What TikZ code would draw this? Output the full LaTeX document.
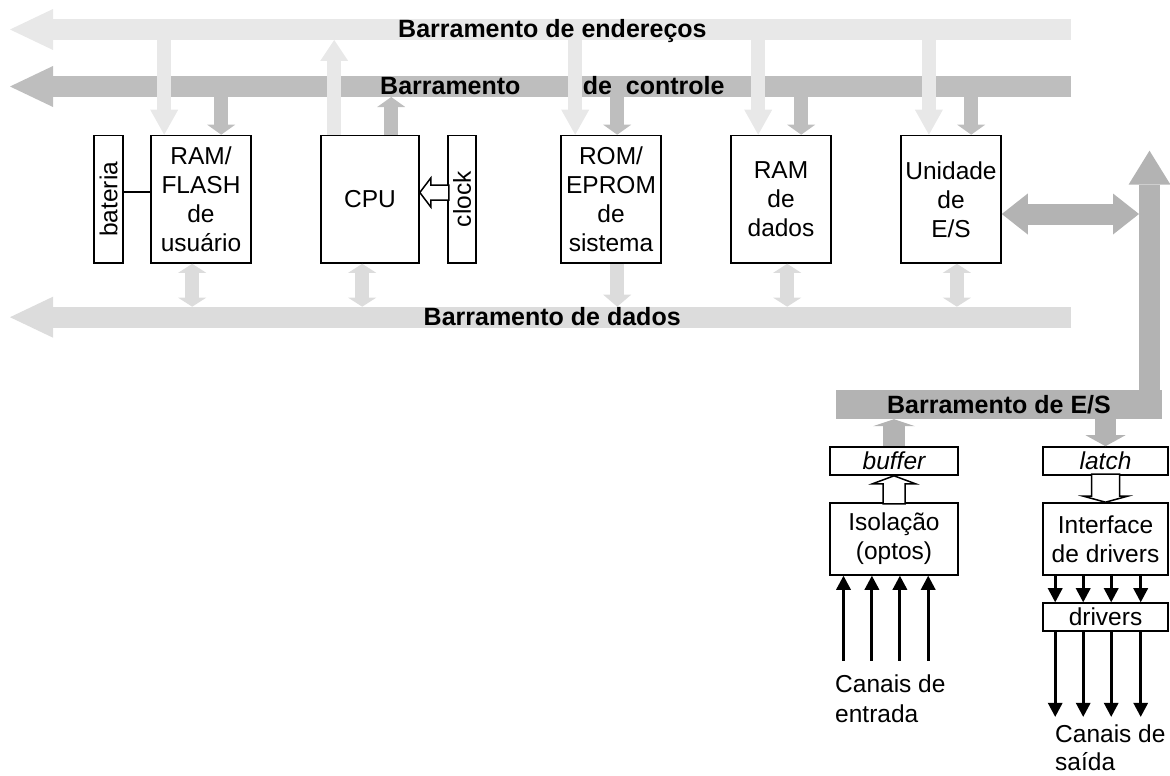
\documentclass[tikz,border=0pt]{standalone}
\usepackage{fontspec}
\setmainfont{Liberation Sans}
\usetikzlibrary{arrows.meta,calc}
\definecolor{addrc}{HTML}{E8E8E8}
\definecolor{ctrlc}{HTML}{BEBEBE}
\definecolor{datac}{HTML}{DCDCDC}
\definecolor{ioc}{HTML}{B3B3B3}
\begin{document}
\begin{tikzpicture}[x=1pt,y=-1pt,
  box/.style={draw=black,line width=1.6pt,fill=white,inner sep=0pt,align=center,font=\fontsize{24.5}{29}\selectfont},
  lbl/.style={inner sep=0pt,font=\fontsize{25}{30}\selectfont\bfseries,anchor=base west},
  bus/.style={line width=21pt,-{Triangle[width=41pt,length=43pt,line width=0pt]}},
  dropA/.style={draw=addrc,line width=14pt,-{Triangle[width=28pt,length=25pt,line width=0pt]}},
  upA/.style={draw=addrc,line width=14pt,-{Triangle[width=28pt,length=21pt,line width=0pt]}},
  dropC/.style={draw=ctrlc,line width=14pt,-{Triangle[width=28pt,length=10pt,line width=0pt]}},
  ddouble/.style={draw=datac,line width=14pt,{Triangle[width=28pt,length=9pt,line width=0pt]}-{Triangle[width=28pt,length=9pt,line width=0pt]}},
  dsingle/.style={draw=datac,line width=14pt,-{Triangle[width=28pt,length=12pt,line width=0pt]}},
  iov/.style={draw=ioc,line width=21pt,-{Triangle[width=42pt,length=34pt,line width=0pt]}},
  ioh/.style={draw=ioc,line width=21pt,{Triangle[width=41pt,length=26pt,line width=0pt]}-{Triangle[width=41pt,length=26pt,line width=0pt]}},
  iobuf/.style={draw=ioc,line width=22pt,-{Triangle[width=42pt,length=7pt,line width=0pt]}},
  iolat/.style={draw=ioc,line width=21pt,-{Triangle[width=40pt,length=11pt,line width=0pt]}},
  hollow/.style={draw=black,fill=white,line width=1.5pt,line join=miter},
  blk/.style={draw=black,line width=3pt,-{Triangle[width=15pt,length=14pt,line width=0pt]}},
  iobus/.style={fill=ioc,inner sep=0pt,minimum width=326pt,minimum height=29pt,font=\fontsize{25}{30}\selectfont\bfseries},
  txt/.style={anchor=north west,inner sep=0pt,align=left}
]
\useasboundingbox (0,0) rectangle (1170,776);

% bus coordinates
\coordinate (aR) at (1071,29.5); \coordinate (aL) at (10,29.5);
\coordinate (cR) at (1071,86.5); \coordinate (cL) at (10,86.5);
\coordinate (dR) at (1071,317.2); \coordinate (dL) at (10,317.2);
\coordinate (aB) at (0,40); \coordinate (cB) at (0,97); \coordinate (dT) at (0,306.7);

% buses
\draw[bus,draw=addrc] (aR) -- (aL);
\draw[bus,draw=ctrlc] (cR) -- (cL);
\draw[bus,draw=datac] (dR) -- (dL);

% boxes
\node[box,rotate=90,minimum width=127.5pt,minimum height=29pt] (bat) at (108.5,199.25) {bateria};
\node[box,minimum width=100pt,minimum height=127.5pt] (ramf) at (201,199.25) {RAM/\\FLASH\\de\\usuário};
\node[box,minimum width=98pt,minimum height=127.5pt] (cpu) at (370,199.25) {CPU};
\node[box,rotate=90,minimum width=127.5pt,minimum height=28pt] (clk) at (462,199.25) {clock};
\node[box,minimum width=100pt,minimum height=127.5pt] (rom) at (611,199.25) {ROM/\\EPROM\\de\\sistema};
\node[box,minimum width=100pt,minimum height=127.5pt] (ramd) at (781,199.25) {RAM\\de\\dados};
\node[box,minimum width=100pt,minimum height=127.5pt] (es) at (951,199.25) {Unidade\\de\\E/S};

\node[box,minimum width=128pt,minimum height=28pt] (buf) at (894,461) {\itshape buffer};
\node[box,minimum width=125pt,minimum height=28pt] (lat) at (1105.5,461) {\itshape latch};
\node[box,minimum width=128pt,minimum height=72pt] (iso) at (894,539) {Isolação\\(optos)};
\node[box,minimum width=125pt,minimum height=72pt] (itf) at (1105.5,539) {Interface\\de drivers};
\node[box,minimum width=125pt,minimum height=28pt] (drv) at (1105.5,617) {drivers};

% battery link
\draw[line width=1.5pt] (bat.south |- 0,192) -- (ramf.west |- 0,192);

% address drops
\draw[dropA] ($(ramf.north west |- aL)+(14,0)$) -- ($(ramf.north west)+(14,0)$);
\draw[upA] ($(cpu.north west)+(14,0)$) -- ($(cpu.north west |- aB)+(14,0)$);
\draw[dropA] ($(rom.north west |- aL)+(15,0)$) -- ($(rom.north west)+(15,0)$);
\draw[dropA] ($(ramd.north west |- aL)+(28,0)$) -- ($(ramd.north west)+(28,0)$);
\draw[dropA] ($(es.north west |- aL)+(28.7,0)$) -- ($(es.north west)+(28.7,0)$);

% control drops
\draw[dropC] ($(ramf.north west |- cL)+(71,0)$) -- ($(ramf.north west)+(71,0)$);
\draw[dropC] ($(cpu.north west)+(71,0)$) -- ($(cpu.north west |- cB)+(71,0)$);
\draw[dropC] ($(rom.north west |- cL)+(57,0)$) -- ($(rom.north west)+(57,0)$);
\draw[dropC] ($(ramd.north west |- cL)+(71,0)$) -- ($(ramd.north west)+(71,0)$);
\draw[dropC] ($(es.north west |- cL)+(71,0)$) -- ($(es.north west)+(71,0)$);

% data arrows
\draw[ddouble] ($(ramf.south west)+(42,0)$) -- ($(ramf.south west |- dT)+(42,0)$);
\draw[ddouble] ($(cpu.south west)+(42,0)$) -- ($(cpu.south west |- dT)+(42,0)$);
\draw[dsingle] ($(rom.south west)+(57,0)$) -- ($(rom.south west |- dT)+(57,0)$);
\draw[ddouble] ($(ramd.south west)+(57,0)$) -- ($(ramd.south west |- dT)+(57,0)$);
\draw[ddouble] ($(es.south west)+(56.7,0)$) -- ($(es.south west |- dT)+(56.7,0)$);

% clock hollow arrow
\draw[hollow] (cpu.east |- 0,192.5) -- ++(11,-14.5) -- ++(0,7) -- ++(18,0) -- ++(0,15) -- ++(-18,0) -- ++(0,7) -- cycle;

% I/O bus
\node[iobus] (iob) at (999,404.5) {Barramento de E/S};
\coordinate (ioT) at (1149.5,150.7);
\coordinate (ioH) at (1139,214);
\draw[iov] (iob.north -| ioT) -- (ioT);
\draw[ioh] ($(es.east)+(0,14.75)$) -- (ioH);
\draw[iobuf] (buf.north) -- (buf.north |- iob.south);
\draw[iolat] (lat.north |- iob.south) -- (lat.north);

% hollow arrows buffer / latch
\draw[hollow] (buf.south) -- ++(21.5,8) -- ++(-10.5,0) -- ++(0,20) -- ++(-22,0) -- ++(0,-20) -- ++(-10.5,0) -- cycle;
\draw[hollow] (itf.north) -- ++(22,-6) -- ++(-8,0) -- ++(0,-22) -- ++(-28,0) -- ++(0,22) -- ++(-8,0) -- cycle;

% black channel arrows
\foreach \dx in {14.3,42.7,70.7,99} {
  \draw[blk] ($(iso.south west)+(\dx,85)$) -- ($(iso.south west)+(\dx,0)$);
}
\foreach \dx in {13,41,69,98.5} {
  \draw[blk] ($(itf.south west)+(\dx,0)$) -- ($(drv.north west)+(\dx,0)$);
  \draw[blk] ($(drv.south west)+(\dx,0)$) -- ($(drv.south west)+(\dx,85)$);
}

% bus labels
\node[lbl] (lA) at (398,38) {Barramento de endereços};
\node[lbl] (lC1) at (380,95) {Barramento};
\node[lbl] (lC2) at (582.7,95) {de\ \ controle};
\node[lbl] (lD) at (423.5,325) {Barramento de dados};

% channel labels
\node[txt,font=\fontsize{24.5}{30}\selectfont] (cin) at (835,674.5) {Canais de\\entrada};
\node[txt,font=\fontsize{24.5}{28}\selectfont] (cout) at (1055,724.5) {Canais de\\saída};
\end{tikzpicture}
\end{document}
